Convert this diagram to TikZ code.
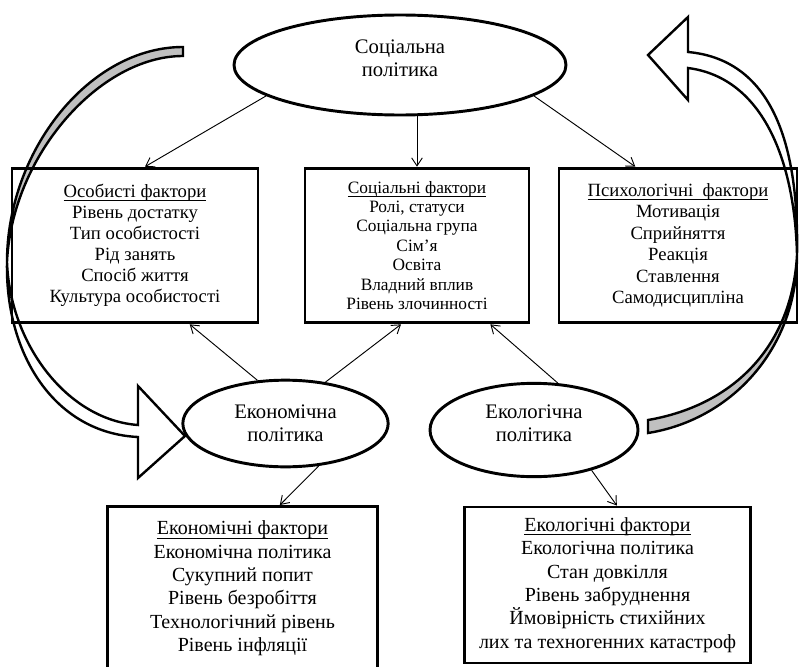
\documentclass[tikz,border=0pt]{standalone}
\usepackage{fontspec}
\setmainfont{Liberation Serif}
\usetikzlibrary{shapes.geometric, arrows.meta, backgrounds}
\definecolor{bandgray}{RGB}{192,192,192}
\newsavebox\undlbox
\newcommand{\undl}[1]{\sbox\undlbox{#1}\rlap{\rule[-2.5pt]{\wd\undlbox}{0.6pt}}\usebox\undlbox}

\begin{document}
\begin{tikzpicture}[x=.75pt, y=-.75pt]
\tikzstyle{pol} = [ellipse, draw=black, line width=2.2pt, align=center, inner sep=1pt, font=\fontsize{15.5}{17.3}\selectfont]
\tikzstyle{fbox} = [rectangle, draw=black, line width=2.2pt, align=center, inner sep=2pt]
\tikzstyle{arr} = [-{Straight Barb[length=6pt, width=8pt]}, line width=.7pt]
\tikzstyle{band} = [draw=black, line width=1.8pt]

\useasboundingbox (0,0) rectangle (799,667);
\clip (0,0) rectangle (799,667);

\node (soc) [pol, minimum width=249pt, minimum height=75pt, text depth=10pt] at (400,65) {Соціальна\\політика};
\node (econ) [pol, minimum width=154pt, minimum height=65pt] at (285.5,423.5) {Економічна\\політика};
\node (eco) [pol, minimum width=156pt, minimum height=70pt, text depth=10pt] at (534,430) {Екологічна\\політика};

\node (pers) [fbox, minimum width=184.5pt, minimum height=116pt, font=\fontsize{14}{15.8}\selectfont] at (135,245.5) {\undl{Особисті фактори}\\Рівень достатку\\Тип особистості\\Рід занять\\Спосіб життя\\Культура особистості};
\node (socf) [fbox, minimum width=168pt, minimum height=116pt, font=\fontsize{13}{14.6}\selectfont] at (417,245.5) {\undl{Соціальні фактори}\\Ролі, статуси\\Соціальна група\\Сім’я\\Освіта\\Владний вплив\\Рівень злочинності};
\node (psy) [fbox, minimum width=178.5pt, minimum height=116pt, font=\fontsize{14}{16.1}\selectfont] at (678,245.5) {\undl{Психологічні\ \ фактори}\\Мотивація\\Сприйняття\\Реакція\\Ставлення\\Самодисципліна};
\node (econf) [fbox, minimum width=203pt, minimum height=123pt, font=\fontsize{15}{17.5}\selectfont] at (242.5,588.5) {\undl{Економічні фактори}\\Економічна політика\\Сукупний попит\\Рівень безробіття\\Технологічний рівень\\Рівень інфляції};
\node (ecof) [fbox, minimum width=214pt, minimum height=117pt, font=\fontsize{15}{17.5}\selectfont] at (607.5,585) {\undl{Екологічні фактори}\\Екологічна політика\\Стан довкілля\\Рівень забруднення\\Ймовірність стихійних\\лих та техногенних катастроф};

% big curved arrows
\begin{scope}[on background layer]
\filldraw[band, fill=bandgray] (183,47) .. controls (90,47) and (7,150) .. (7,262) .. controls (12,155) and (100,56) .. (183,56) -- cycle;
\filldraw[band, fill=white] (7,262) .. controls (10,345) and (68,420) .. (138,425) -- (138,386) -- (185,436) -- (138,478) -- (138,437) .. controls (55,433) and (5,355) .. (7,262) -- cycle;
\filldraw[band, fill=bandgray] (648,420) .. controls (735,405) and (792,345) .. (797,255) .. controls (797,350) and (730,420) .. (648,433) -- cycle;
\filldraw[band, fill=white] (797,255) .. controls (799,150) and (775,60) .. (688,52) -- (688,17) -- (648,55) -- (688,100) -- (688,68) .. controls (765,78) and (795,165) .. (797,255) -- cycle;
\end{scope}

\draw[arr] (soc.193) -- ([xshift=7.5pt]pers.north);
\draw[arr] (soc.south -| socf.north) -- (socf.north);
\draw[arr] (soc.347) -- ([xshift=-32pt]psy.north);

\draw[arr] (econ.123) -- ([xshift=41pt]pers.south);
\draw[arr] (econ.46) -- ([xshift=-12pt]socf.south);
\draw[arr] (eco.63) -- ([xshift=55pt]socf.south);

\draw[arr] (econ.-52) -- ([xshift=28pt]econf.north);
\draw[arr] (eco.-35) -- ([xshift=7pt]ecof.north);

\end{tikzpicture}
\end{document}
